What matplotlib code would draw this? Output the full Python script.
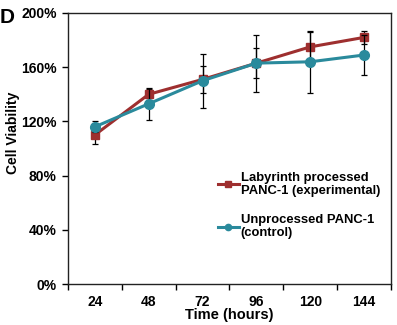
import matplotlib
matplotlib.use('Agg')
import matplotlib.pyplot as plt
from matplotlib.ticker import FuncFormatter, FixedLocator
from matplotlib.lines import Line2D
import numpy as np

plt.rcParams['font.family'] = ['Liberation Sans', 'DejaVu Sans']
plt.rcParams['font.weight'] = 'bold'

hours = ['24', '48', '72', '96', '120', '144']
labyrinth = [110, 140, 151, 163, 175, 182]
labyrinth_err = [7, 4, 10, 11, 11, 5]
control = [116, 133, 150, 163, 164, 169]
control_err = [4, 12, 20, 21, 23, 15]

red = '#9e2f2f'
teal = '#2a8a9c'

fig = plt.figure(figsize=(3.97, 3.25), dpi=100)
ax = fig.add_axes([0.171, 0.126, 0.814, 0.834])

x = np.arange(len(hours))
ax.errorbar(x, labyrinth, yerr=labyrinth_err, color=red, lw=2.2,
            marker='s', ms=6, ecolor='black', elinewidth=0.9, capsize=2.5,
            capthick=0.9, zorder=3)
ax.errorbar(x, control, yerr=control_err, color=teal, lw=2.2,
            marker='o', ms=7, ecolor='black', elinewidth=0.9, capsize=2.5,
            capthick=0.9, zorder=4)

ax.set_xlim(-0.5, len(hours) - 0.5)
ax.set_ylim(0, 200)
ax.set_yticks([0, 40, 80, 120, 160, 200])
ax.yaxis.set_major_formatter(FuncFormatter(lambda v, p: f'{v:.0f}%'))

# category labels centred, tick marks between categories
ax.set_xticks(x)
ax.set_xticklabels(hours)
ax.tick_params(axis='x', which='major', length=0, pad=8, labelsize=10)
ax.xaxis.set_minor_locator(FixedLocator(np.arange(-0.5, len(hours), 1.0)))
ax.tick_params(axis='x', which='minor', length=4, width=1, direction='out')
ax.tick_params(axis='y', length=4, width=1, direction='out', labelsize=10, pad=4)

for s in ax.spines.values():
    s.set_linewidth(1.0)
    s.set_color('#222222')

ax.set_ylabel('Cell Viability', fontsize=10, fontweight='bold')
ax.yaxis.set_label_coords(-0.148, 0.557)
ax.set_xlabel('Time (hours)', fontsize=10.5, fontweight='bold', labelpad=-1)

handles = [
    Line2D([], [], color=red, lw=2.2, marker='s', ms=4),
    Line2D([], [], color=teal, lw=2.2, marker='o', ms=4.5),
]
labels = ['Labyrinth processed\nPANC-1 (experimental)', 'Unprocessed PANC-1\n(control)']
leg = ax.legend(handles, labels, loc='upper left', bbox_to_anchor=(0.464, 0.415),
                frameon=False, fontsize=9.4, handlelength=1.6, handletextpad=0.15,
                labelspacing=1.25, borderaxespad=0, borderpad=0)
for t in leg.get_texts():
    t.set_fontweight('bold')

fig.text(0.0, 0.975, 'D', fontsize=15, fontweight='bold', va='top', ha='left')

fig.savefig('out.png', dpi=100)
